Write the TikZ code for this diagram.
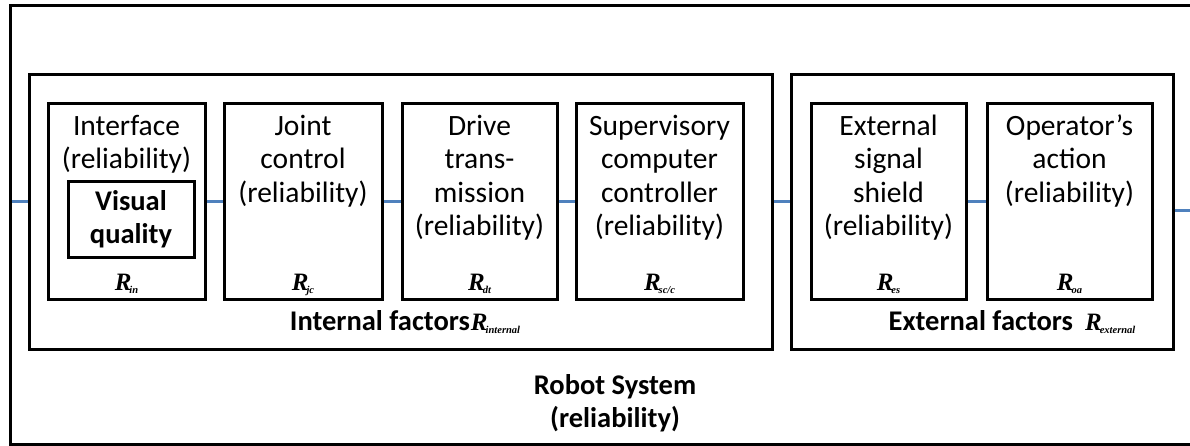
\documentclass[tikz,border=0pt]{standalone}
\usepackage{fontspec}
\setmainfont{Carlito}
\newfontfamily\rfont{Liberation Serif}
\newcommand{\Rlab}[1]{{\rfont\bfseries\itshape\fontsize{25}{25}\selectfont R}\kern-2pt{\rfont\bfseries\itshape\fontsize{10.5}{10.5}\selectfont\raisebox{-3.5pt}{#1}}}
\definecolor{linkblue}{RGB}{79,129,189}
\begin{document}
\begin{tikzpicture}[x=1pt,y=-1pt,
  frame/.style={draw=black,line width=3pt,inner sep=0pt,outer sep=0pt},
  link/.style={draw=linkblue,line width=3pt,shorten >=1.5pt,shorten <=1.5pt},
  txt/.style={font=\fontsize{29.5}{33.5}\selectfont,align=center,inner sep=0pt,anchor=north},
  btxt/.style={font=\bfseries\fontsize{28.5}{33}\selectfont,align=center,inner sep=0pt},
  rl/.style={inner sep=0pt,anchor=base}]
\useasboundingbox (0,0) rectangle (1190,446);
% frames
\node[frame,minimum width=1210pt,minimum height=438pt] (system) at (615,225) {};
\node[frame,minimum width=743pt,minimum height=274pt] (internal) at (400.5,212) {};
\node[frame,minimum width=382pt,minimum height=274pt] (external) at (982,212) {};
\node[frame,minimum width=157pt,minimum height=195pt] (iface) at (126.5,201.5) {};
\node[frame,minimum width=158pt,minimum height=195pt] (joint) at (303,201.5) {};
\node[frame,minimum width=155pt,minimum height=195pt] (drive) at (479.5,201.5) {};
\node[frame,minimum width=167pt,minimum height=195pt] (sup) at (659.5,201.5) {};
\node[frame,minimum width=155pt,minimum height=195pt] (esig) at (888.5,201.5) {};
\node[frame,minimum width=165pt,minimum height=195pt] (oper) at (1069.5,201.5) {};
\node[frame,minimum width=126pt,minimum height=75pt] (visual) at (131,219.5) {};
% texts
\node[txt] (tiface) at (126.5,111.5) {\strut Interface\\(reliability)};
\node[txt] (tjoint) at (303,111.5) {\strut Joint\\control\\(reliability)};
\node[txt] (tdrive) at (479.5,111.5) {\strut Drive\\trans-\\mission\\(reliability)};
\node[txt] (tsup) at (659.5,111.5) {\strut Supervisory\\computer\\controller\\(reliability)};
\node[txt] (tesig) at (888.5,111.5) {\strut External\\signal\\shield\\(reliability)};
\node[txt] (toper) at (1069.5,111.5) {\strut Operator’s\\action\\(reliability)};
\node[btxt] (tvisual) at (visual.center) {Visual\\quality};
% R labels
\node[rl] (riface) at (126.5,290) {\Rlab{in}};
\node[rl] (rjoint) at (303,290) {\Rlab{jc}};
\node[rl] (rdrive) at (479.5,290) {\Rlab{dt}};
\node[rl] (rsup) at (659.5,290) {\Rlab{sc/c}};
\node[rl] (resig) at (888.5,290) {\Rlab{es}};
\node[rl] (roper) at (1069.5,290) {\Rlab{oa}};
\node[btxt,anchor=base] (tinternal) at (405,330) {Internal factors\hspace{1pt}\Rlab{internal}};
\node[btxt,anchor=base] (texternal) at (1012,330) {External factors\hspace{12pt}\Rlab{external}};
\node[btxt,anchor=north] (tsystem) at (615,371) {\strut Robot System\\(reliability)};
% connectors
\coordinate (outR) at (1190,211);
\draw[link] (system.west |- iface.west) -- (internal.west |- iface.west);
\draw[link] (iface.east) -- (joint.west);
\draw[link] (joint.east) -- (drive.west);
\draw[link] (drive.east) -- (sup.west);
\draw[link] (internal.east |- sup.east) -- (external.west |- sup.east);
\draw[link] (esig.east) -- (oper.west);
\draw[link,shorten >=0pt] (external.east |- outR) -- (outR);
\end{tikzpicture}
\end{document}
